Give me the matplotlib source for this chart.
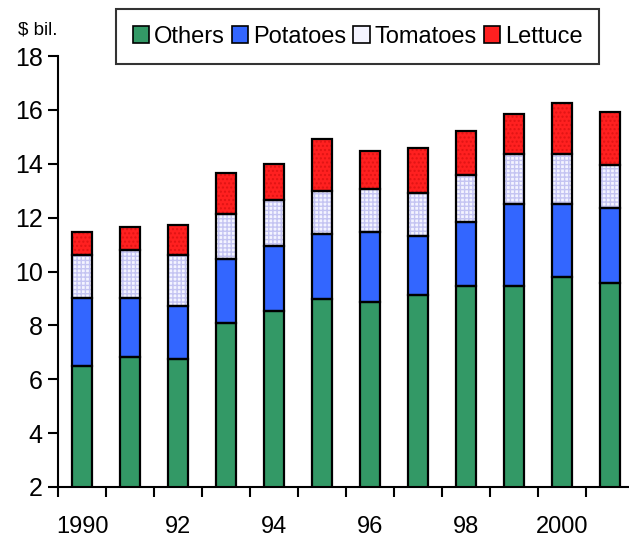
import matplotlib.pyplot as plt
import numpy as np
from matplotlib.patches import Patch

plt.rcParams['font.family'] = ['Liberation Sans', 'DejaVu Sans']

# ── data ($ billion) ─────────────────────────────────────────────────────────
years     = [1990, 1991, 1992, 1993, 1994, 1995, 1996, 1997, 1998, 1999, 2000, 2001]
others    = [6.50, 6.82, 6.75, 8.10, 8.52, 8.97, 8.87, 9.12, 9.46, 9.46, 9.80, 9.57]
potatoes  = [2.50, 2.18, 1.97, 2.35, 2.44, 2.43, 2.60, 2.18, 2.37, 3.04, 2.70, 2.78]
tomatoes  = [1.63, 1.81, 1.91, 1.70, 1.71, 1.60, 1.60, 1.62, 1.77, 1.88, 1.87, 1.59]
lettuce   = [0.85, 0.86, 1.11, 1.52, 1.33, 1.93, 1.40, 1.68, 1.60, 1.47, 1.88, 1.98]
tick_text = ['1990', '', '92', '', '94', '', '96', '', '98', '', '2000', '']
# ─────────────────────────────────────────────────────────────────────────────

series = [('Others',   others,   '#339966', None,   None),
          ('Potatoes', potatoes, '#3366FF', None,   None),
          ('Tomatoes', tomatoes, '#F4F4FF', '++++', '#C4C4F2'),
          ('Lettuce',  lettuce,  '#FF2020', '....', '#E01414')]

fig = plt.figure(figsize=(6.29, 5.42), dpi=100)
ax = fig.add_axes([58/629, 55/542, 576/629, 431/542])

x = np.arange(len(years))
width = 0.42
bottom = np.zeros(len(years))
for name, vals, face, hatch, hcol in series:
    h = np.array(vals)
    if hatch:
        ax.bar(x, h, width, bottom=bottom, color=face, edgecolor=hcol,
               hatch=hatch, linewidth=0, zorder=2)
    else:
        ax.bar(x, h, width, bottom=bottom, color=face, linewidth=0, zorder=2)
    # black outline on top
    ax.bar(x, h, width, bottom=bottom, fill=False, edgecolor='black',
           linewidth=1.6, zorder=3)
    bottom = bottom + h

ax.set_xlim(-0.5, len(years) - 0.5)
ax.set_ylim(2, 18)
ax.set_yticks(np.arange(2, 19, 2))

ax.set_xticks(x)
ax.set_xticklabels(tick_text, fontsize=17)
ax.set_xticks(np.arange(-0.5, len(years)), minor=True)
ax.tick_params(axis='x', which='major', length=0, pad=21)
ax.tick_params(axis='x', which='minor', length=7, width=1.5, direction='out')
ax.tick_params(axis='y', length=7, width=1.5, direction='out', pad=4, labelsize=18)

for side in ['top', 'right']:
    ax.spines[side].set_visible(False)
for side in ['left', 'bottom']:
    ax.spines[side].set_linewidth(1.5)

fig.text(18/629, 1 - 30/542, '$ bil.', fontsize=13.5, va='center', ha='left')

handles = [Patch(facecolor=s[2], edgecolor='black', linewidth=1.2) for s in series]
leg = fig.legend(handles, [s[0] for s in series], loc='upper left',
                 bbox_to_anchor=(116/629, 1 - 9/542), ncol=4, fontsize=17,
                 frameon=True, fancybox=False, borderpad=0.7,
                 handlelength=0.7, handleheight=0.7, handletextpad=0.2,
                 columnspacing=0.3, borderaxespad=0)
leg.get_frame().set_edgecolor('black')
leg.get_frame().set_linewidth(1.5)

plt.savefig('out.png', dpi=100)
